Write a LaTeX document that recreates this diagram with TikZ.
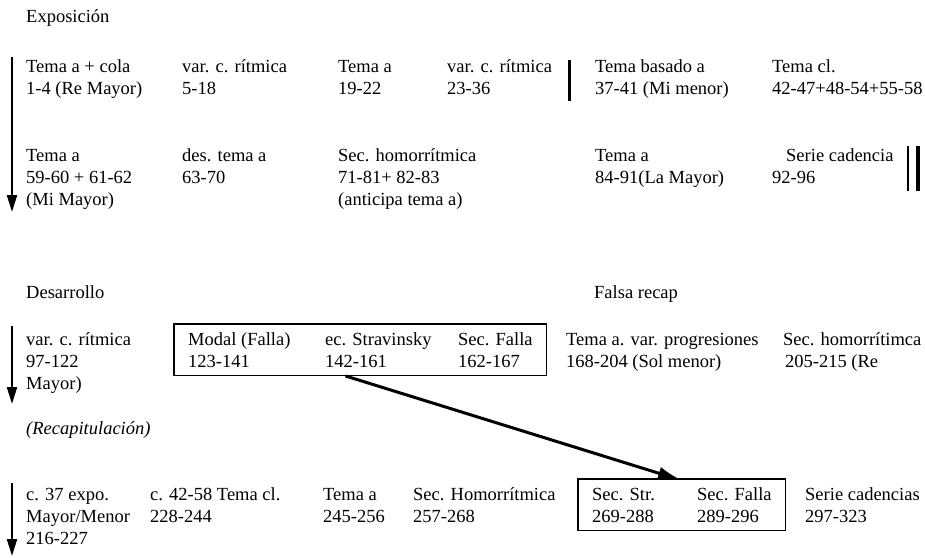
\documentclass[tikz,border=0pt]{standalone}
\usepackage{fontspec}
\setmainfont{Liberation Serif}
\usetikzlibrary{arrows.meta, positioning, fit}

\begin{document}
\begin{tikzpicture}[x=1pt, y=-1pt,
    every node/.style={font=\fontsize{18.5}{22}\selectfont, inner sep=0pt, anchor=base west, align=left},
    tiempo/.style={-{Triangle[length=17pt, width=10pt]}, line width=2.4pt},
    caja/.style={draw, line width=1.1pt, inner xsep=14pt, inner ysep=8pt}]
    % Fix the page to the reference size
    \useasboundingbox (0,0) rectangle (925,557);
    % nodes sit on the baseline of their last line (22pt per line)

    % Exposicion
    \node (expo) at (26,22) {Exposición};
    \coordinate (eA) at (12,57);
    \coordinate (eB) at (12,212);
    \draw[tiempo] (eA) -- (eB);

    % first row
    \node (e1) at (26,94) {Tema a + cola\\1-4 (Re Mayor)};
    \node (e2) at (182,94) {var. c. rítmica\\5-18};
    \node (e3) at (338,94) {Tema a\\19-22};
    \node (e4) at (447,94) {var. c. rítmica\\23-36};
    \draw[line width=3pt] (569,60) -- (569,101);
    \node (e5) at (595,94) {Tema basado a\\37-41 (Mi menor)};
    \node (e6) at (772,94) {Tema cl.\\42-47+48-54+55-58};

    % second row
    \node (e7) at (26,205) {Tema a\\59-60 + 61-62\\(Mi Mayor)};
    \node (e8) at (182,183) {des. tema a\\63-70};
    \node (e9) at (338,205) {Sec. homorrítmica\\71-81+ 82-83\\(anticipa tema a)};
    \node (e10) at (595,183) {Tema a\\84-91(La Mayor)};
    \node (e11) at (772,183) {\hspace*{14pt}Serie cadencia\\92-96};
    % double bar at the end
    \draw[line width=2.4pt] (908,146) -- (908,191);
    \draw[line width=3.6pt] (918,146) -- (918,191);

    % Desarrollo
    \node (des) at (26,298) {Desarrollo};
    \node (falsa) at (594,298) {Falsa recap};
    \coordinate (dA) at (12,326);
    \coordinate (dB) at (12,404);
    \draw[tiempo] (dA) -- (dB);

    \node (d1) at (26,389) {var. c. rítmica\\97-122\\Mayor)};
    \node (d2) at (188,367) {Modal (Falla)\\123-141};
    \node (d3) at (325,367) {ec. Stravinsky\\142-161};
    \node (d4) at (458,367) {Sec. Falla\\162-167};
    \node (d5) at (566,367) {Tema a. var. progresiones\\168-204 (Sol menor)};
    \node (d6) at (783,367) {Sec. homorrítimca\\\hspace*{2pt}205-215 (Re};
    \node[caja, fit=(d2)(d3)(d4)] (bxA) {};

    % Recapitulacion
    \node (rec) at (26,434) {\textit{(Recapitulación)}};
    \coordinate (rA) at (12,483);
    \coordinate (rB) at (12,556);
    \draw[tiempo] (rA) -- (rB);

    \node (r1) at (26,544) {c. 37 expo.\\Mayor/Menor\\216-227};
    \node (r2) at (150,522) {c. 42-58 Tema cl.\\228-244};
    \node (r3) at (323,522) {Tema a\\245-256};
    \node (r4) at (413,522) {Sec. Homorrítmica\\257-268};
    \node (r5) at (592,522) {Sec. Str.\\269-288};
    \node (r6) at (697,522) {Sec. Falla\\289-296};
    \node (r7) at (805,522) {Serie cadencias\\297-323};
    \node[caja, fit=(r5)(r6)] (bxB) {};

    % material of the development comes back in the recap
    \draw[-{Latex[length=24pt, width=13pt]}, line width=3pt] ([xshift=-15pt]bxA.south) -- ([yshift=-2pt]bxB.north);
\end{tikzpicture}
\end{document}
